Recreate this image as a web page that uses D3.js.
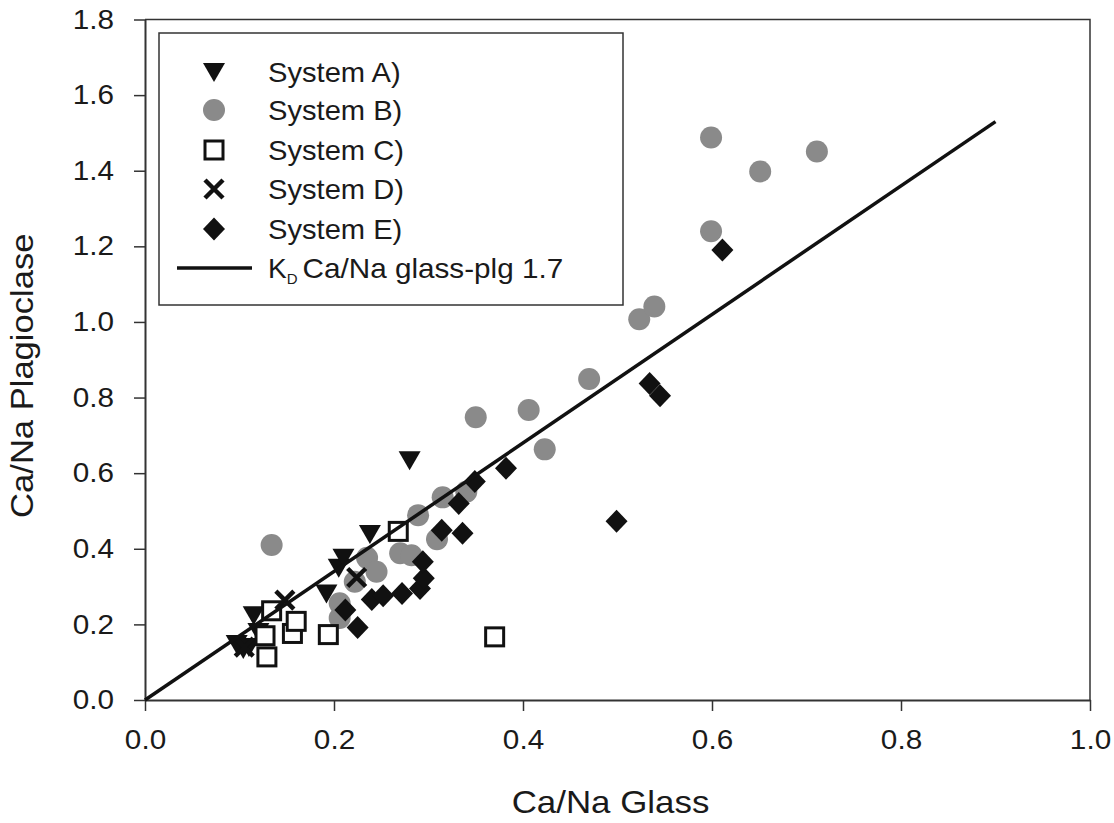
<!DOCTYPE html>
<html>
<head>
<meta charset="utf-8">
<script src="https://cdn.jsdelivr.net/npm/d3@7"></script>
<style>
  body { margin: 0; background: #fff; }
  text { font-family: "Liberation Sans", Arial, sans-serif; fill: #1a1a1a; }
</style>
</head>
<body>
<svg id="chart" width="1114" height="823"></svg>
<script>
// ---- Data ----
const systemA = [[0.097,0.148],[0.104,0.135],[0.110,0.140],[0.115,0.224],[0.120,0.180],[0.192,0.282],[0.205,0.350],[0.210,0.376],[0.238,0.439],[0.280,0.634]];
const systemB = [[0.134,0.410],[0.206,0.217],[0.206,0.256],[0.222,0.313],[0.235,0.376],[0.245,0.339],[0.270,0.388],[0.282,0.383],[0.289,0.489],[0.309,0.425],[0.315,0.536],[0.340,0.551],[0.350,0.748],[0.406,0.767],[0.423,0.663],[0.470,0.849],[0.523,1.007],[0.539,1.041],[0.599,1.240],[0.599,1.488],[0.651,1.398],[0.711,1.451]];
const systemC = [[0.129,0.114],[0.127,0.170],[0.134,0.236],[0.156,0.176],[0.160,0.208],[0.194,0.173],[0.268,0.446],[0.370,0.167]];
const systemD = [[0.105,0.140],[0.148,0.264],[0.224,0.324]];
const systemE = [[0.212,0.238],[0.225,0.192],[0.240,0.266],[0.252,0.276],[0.272,0.282],[0.291,0.295],[0.295,0.322],[0.294,0.366],[0.314,0.449],[0.332,0.520],[0.336,0.441],[0.349,0.578],[0.382,0.613],[0.499,0.473],[0.534,0.837],[0.545,0.805],[0.611,1.190]];
const kdLine = [[0,0],[0.9,1.53]];
const xTicks = [0,0.2,0.4,0.6,0.8,1.0];
const yTicks = [0,0.2,0.4,0.6,0.8,1.0,1.2,1.4,1.6,1.8];
const legendLabels = ["System A)","System B)","System C)","System D)","System E)"];
const lineLabel = "Ca/Na glass-plg 1.7";

// ---- Layout ----
const svg = d3.select("#chart");
const L = 145, R = 1090, T = 19.5, B = 700;
const x = d3.scaleLinear().domain([0,1]).range([L,R]);
const y = d3.scaleLinear().domain([0,1.8]).range([B,T]);

// horizontal stretch helper (reference text is slightly wide)
function stretch(sel, f) {
  sel.each(function(){
    const len = this.getComputedTextLength();
    d3.select(this).attr("textLength", len*f).attr("lengthAdjust","spacingAndGlyphs");
  });
}

// frame (top/right)
svg.append("path")
  .attr("d", `M${L},${T}H${R}V${B}`)
  .attr("fill","none").attr("stroke","#333").attr("stroke-width",1.5);

// axes
const fmt = d3.format(".1f");
const gx = svg.append("g").attr("transform",`translate(0,${B})`)
  .call(d3.axisBottom(x).tickValues(xTicks).tickFormat(fmt).tickSize(11).tickSizeOuter(0).tickPadding(19));
const gy = svg.append("g").attr("transform",`translate(${L},0)`)
  .call(d3.axisLeft(y).tickValues(yTicks).tickFormat(fmt).tickSize(11).tickSizeOuter(0).tickPadding(20));
[gx,gy].forEach(g=>{
  g.attr("font-size",27).attr("font-family","Liberation Sans, Arial, sans-serif");
  g.select(".domain").attr("stroke","#333").attr("stroke-width",2);
  g.selectAll(".tick line").attr("stroke","#333").attr("stroke-width",1.5);
  g.selectAll(".tick text").attr("fill","#1a1a1a");
  stretch(g.selectAll(".tick text"), 1.1);
});

// axis titles
const xt = svg.append("text").attr("x",(L+R)/2 - 7).attr("y",813).attr("text-anchor","middle")
  .attr("font-size",32).text("Ca/Na Glass");
stretch(xt, 1.09);
const yt = svg.append("text").attr("transform",`translate(33,${(T+B)/2+16}) rotate(-90)`).attr("text-anchor","middle")
  .attr("font-size",32).text("Ca/Na Plagioclase");
stretch(yt, 1.08);

// symbol shapes
const shapes = {
  A: g => g.append("path").attr("d","M-11,-9L11,-9L0,10Z").attr("fill","#111"),
  B: g => g.append("circle").attr("r",11).attr("fill","#8a8a8a"),
  C: g => g.append("rect").attr("x",-9).attr("y",-9).attr("width",18).attr("height",18)
            .attr("fill","#fff").attr("stroke","#111").attr("stroke-width",3),
  D: g => g.append("path").attr("d","M-9,-9L9,9M-9,9L9,-9").attr("stroke","#111").attr("stroke-width",4.5).attr("fill","none"),
  E: g => g.append("path").attr("d","M0,-11.5L11,0L0,11.5L-11,0Z").attr("fill","#111")
};

const series = [["A",systemA],["B",systemB],["C",systemC],["D",systemD],["E",systemE]];
series.forEach(([k,data])=>{
  const g = svg.append("g");
  data.forEach(d=>{
    const m = g.append("g").attr("transform",`translate(${x(d[0])},${y(d[1])})`);
    shapes[k](m);
  });
});

// KD line
svg.append("path").datum(kdLine)
  .attr("d", d3.line().x(d=>x(d[0])).y(d=>y(d[1])))
  .attr("stroke","#111").attr("stroke-width",3.5).attr("fill","none");

// legend
const lg = svg.append("g");
lg.append("rect").attr("x",159).attr("y",33).attr("width",464).attr("height",272)
  .attr("fill","#fff").attr("stroke","#333").attr("stroke-width",1.5);
const rowY = [72,110,150,189,229];
series.forEach(([k],i)=>{
  const m = lg.append("g").attr("transform",`translate(214,${rowY[i]})`);
  shapes[k](m);
  const t = lg.append("text").attr("x",268).attr("y",rowY[i]+10).attr("font-size",28).text(legendLabels[i]);
  stretch(t, 1.04);
});
lg.append("line").attr("x1",177).attr("x2",252).attr("y1",268).attr("y2",268)
  .attr("stroke","#111").attr("stroke-width",3.5);
const lt = lg.append("text").attr("x",268).attr("y",278).attr("font-size",28);
lt.append("tspan").text("K");
lt.append("tspan").attr("font-size",15).attr("dy",6).text("D");
const lt3 = lt.append("tspan").attr("dy",-6).attr("dx",5).text(lineLabel);
lt3.attr("textLength", lt3.node().getComputedTextLength()*1.06).attr("lengthAdjust","spacingAndGlyphs");
</script>
</body>
</html>
